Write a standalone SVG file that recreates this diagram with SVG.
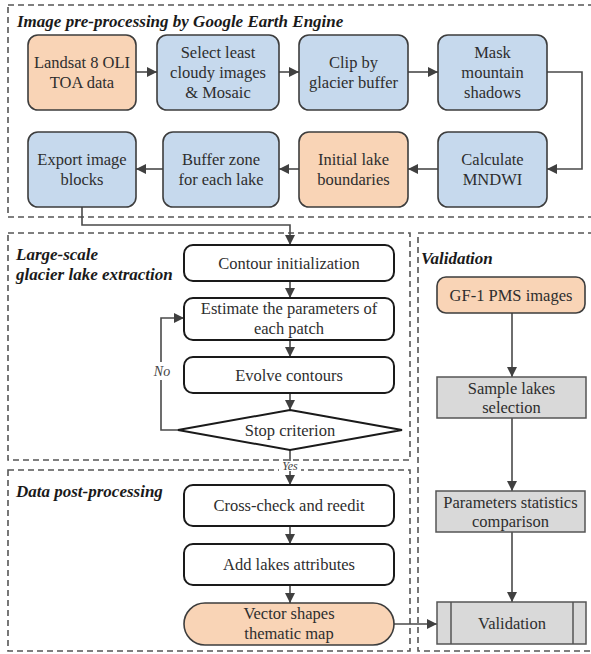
<svg xmlns="http://www.w3.org/2000/svg" width="591" height="654" viewBox="0 0 591 654">
<defs>
<style>
.sec{fill:none;stroke:#555;stroke-width:1.6;stroke-dasharray:6 4}
.title{font-family:"Liberation Serif","Times New Roman",serif;font-weight:bold;font-style:italic;font-size:17px;fill:#1a1a1a}
.t{font-family:"Liberation Serif","Times New Roman",serif;font-size:16.5px;fill:#2e2e2e;text-anchor:middle}
.blue{fill:#c6d9ed;stroke:#3d3d3d;stroke-width:1.6}
.peach{fill:#f9d4b6;stroke:#3d3d3d;stroke-width:1.6}
.white{fill:#fff;stroke:#1a1a1a;stroke-width:2}
.gray{fill:#d9d9d9;stroke:#555;stroke-width:1.5}
.c{fill:none;stroke:#4a4a4a;stroke-width:1.6}
.lbl{font-family:"Liberation Serif","Times New Roman",serif;font-style:italic;fill:#444;text-anchor:middle}
</style>
<marker id="ah" markerUnits="userSpaceOnUse" markerWidth="12" markerHeight="10" refX="10" refY="5" orient="auto">
<path d="M0,0 L10,5 L0,10 z" fill="#404040"/>
</marker>
</defs>
<rect width="591" height="654" fill="#fff"/>
<g id="sections">
<rect class="sec" x="8" y="5" width="592" height="212"/>
<rect class="sec" x="8" y="233" width="402" height="227"/>
<rect class="sec" x="8" y="470" width="402" height="181"/>
<rect class="sec" x="418" y="233" width="182" height="418"/>
<text class="title" x="17" y="27">Image pre-processing by Google Earth Engine</text>
<text class="title" x="16" y="260">Large-scale</text>
<text class="title" x="16" y="280">glacier lake extraction</text>
<text class="title" x="16" y="497">Data post-processing</text>
<text class="title" x="421" y="264">Validation</text>
</g>
<g id="connectors">
<path class="c" d="M136 72 H157" marker-end="url(#ah)"/>
<path class="c" d="M279 72 H299" marker-end="url(#ah)"/>
<path class="c" d="M408 72 H438" marker-end="url(#ah)"/>
<path class="c" d="M547 72 H582 V169 H547" marker-end="url(#ah)"/>
<path class="c" d="M438 169 H408" marker-end="url(#ah)"/>
<path class="c" d="M299 169 H279" marker-end="url(#ah)"/>
<path class="c" d="M163 169 H136" marker-end="url(#ah)"/>
<path class="c" d="M82 207 V225 H290 V245" marker-end="url(#ah)"/>
<path class="c" d="M290 281 V298" marker-end="url(#ah)"/>
<path class="c" d="M290 340 V357" marker-end="url(#ah)"/>
<path class="c" d="M290 393 V410" marker-end="url(#ah)"/>
<path class="c" d="M178 430 H161 V318 H184" marker-end="url(#ah)"/>
<path class="c" d="M290 450 V485" marker-end="url(#ah)"/>
<path class="c" d="M290 526 V544" marker-end="url(#ah)"/>
<path class="c" d="M290 585 V603" marker-end="url(#ah)"/>
<path class="c" d="M394 624 H437" marker-end="url(#ah)"/>
<path class="c" d="M512 313 V377" marker-end="url(#ah)"/>
<path class="c" d="M512 418 V491" marker-end="url(#ah)"/>
<path class="c" d="M512 532 V602" marker-end="url(#ah)"/>
<rect x="151" y="362" width="22" height="18" fill="#fff"/>
<text class="lbl" x="162" y="376" font-size="14">No</text>
<rect x="279" y="461" width="22" height="10" fill="#fff"/>
<text class="lbl" x="290" y="470" font-size="12">Yes</text>
</g>
<g id="landsat"><rect class="peach" x="28" y="35" width="108" height="75" rx="10"/><text class="t" x="82" y="68">Landsat 8 OLI</text><text class="t" x="82" y="88">TOA data</text></g>
<g id="select"><rect class="blue" x="157" y="35" width="122" height="75" rx="10"/><text class="t" x="218" y="58">Select least</text><text class="t" x="218" y="78">cloudy images</text><text class="t" x="218" y="98">&amp; Mosaic</text></g>
<g id="clip"><rect class="blue" x="299" y="35" width="109" height="75" rx="10"/><text class="t" x="353.5" y="68">Clip by</text><text class="t" x="353.5" y="88">glacier buffer</text></g>
<g id="mask"><rect class="blue" x="438" y="35" width="109" height="75" rx="10"/><text class="t" x="492.5" y="58">Mask</text><text class="t" x="492.5" y="78">mountain</text><text class="t" x="492.5" y="98">shadows</text></g>
<g id="export"><rect class="blue" x="28" y="132" width="108" height="75" rx="10"/><text class="t" x="82" y="165">Export image</text><text class="t" x="82" y="185">blocks</text></g>
<g id="buffer"><rect class="blue" x="163" y="132" width="116" height="75" rx="10"/><text class="t" x="221" y="165">Buffer zone</text><text class="t" x="221" y="185">for each lake</text></g>
<g id="initial"><rect class="peach" x="299" y="132" width="109" height="75" rx="10"/><text class="t" x="353.5" y="165">Initial lake</text><text class="t" x="353.5" y="185">boundaries</text></g>
<g id="calculate"><rect class="blue" x="438" y="132" width="109" height="75" rx="10"/><text class="t" x="492.5" y="165">Calculate</text><text class="t" x="492.5" y="185">MNDWI</text></g>
<g id="contour"><rect class="white" x="184" y="245" width="210" height="36" rx="9"/><text class="t" x="289" y="269">Contour initialization</text></g>
<g id="estimate"><rect class="white" x="184" y="298" width="210" height="42" rx="9"/><text class="t" x="289" y="314">Estimate the parameters of</text><text class="t" x="289" y="334">each patch</text></g>
<g id="evolve"><rect class="white" x="184" y="357" width="210" height="36" rx="9"/><text class="t" x="289" y="381">Evolve contours</text></g>
<g id="stop"><polygon class="white" points="290,410 402,430 290,450 178,430"/><text class="t" x="290" y="436">Stop criterion</text></g>
<g id="crosscheck"><rect class="white" x="184" y="485" width="210" height="41" rx="9"/><text class="t" x="289" y="511">Cross-check and reedit</text></g>
<g id="attributes"><rect class="white" x="184" y="544" width="210" height="41" rx="9"/><text class="t" x="289" y="570">Add lakes attributes</text></g>
<g id="vector"><rect class="peach" x="184" y="603" width="210" height="42" rx="21"/><text class="t" x="289" y="619">Vector shapes</text><text class="t" x="289" y="639">thematic map</text></g>
<g id="gf1"><rect class="peach" x="437" y="277" width="148" height="36" rx="9"/><text class="t" x="511" y="301">GF-1 PMS images</text></g>
<g id="sample"><rect class="gray" x="437" y="377" width="149" height="41"/><text class="t" x="511.5" y="394">Sample lakes</text><text class="t" x="511.5" y="413">selection</text></g>
<g id="params"><rect class="gray" x="436" y="491" width="149" height="41"/><text class="t" x="510.5" y="508">Parameters statistics</text><text class="t" x="510.5" y="527">comparison</text></g>
<g id="validation"><rect class="gray" x="437" y="602" width="149" height="42"/><line x1="451" y1="602" x2="451" y2="644" stroke="#555" stroke-width="1.5"/><line x1="573" y1="602" x2="573" y2="644" stroke="#555" stroke-width="1.5"/><text class="t" x="512" y="629">Validation</text></g>
</svg>
